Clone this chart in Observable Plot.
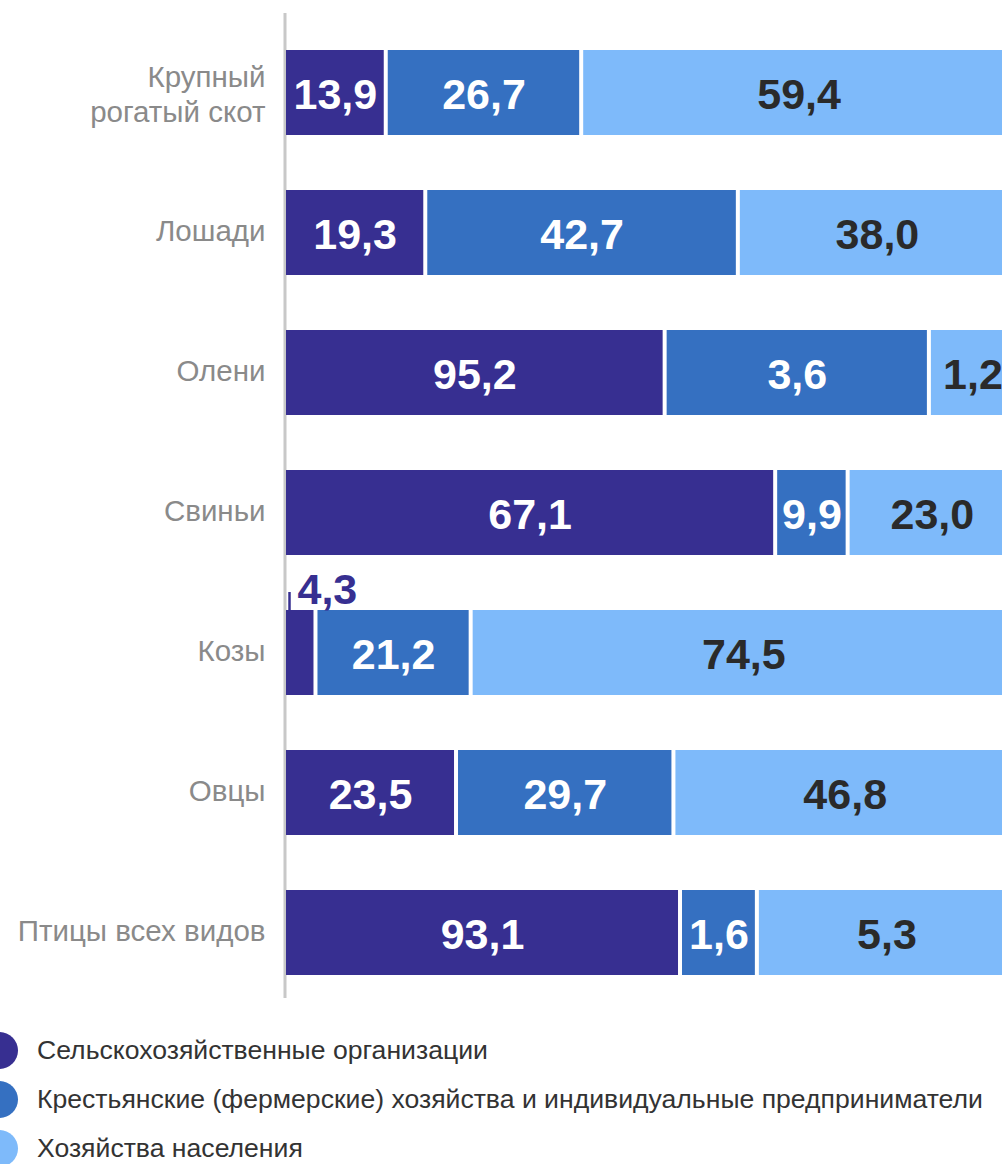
<!DOCTYPE html>
<html><head><meta charset="utf-8">
<script src="https://cdn.jsdelivr.net/npm/d3@7"></script>
<script src="https://cdn.jsdelivr.net/npm/@observablehq/plot@0.6"></script>
<style>
html,body{margin:0;padding:0;background:#fff;overflow:hidden;width:1002px;}
#chart svg{display:block;max-width:none;}
.legend{position:relative;margin-top:26px;font-family:"Liberation Sans",Arial,sans-serif;font-size:26.6px;color:#333;}
.legend .row{position:relative;height:49px;}
.legend .dot{position:absolute;left:-19px;top:6px;width:37px;height:37px;border-radius:50%;}
.legend .lab{position:absolute;left:37px;top:0;line-height:49px;white-space:nowrap;}
</style></head><body>
<div id="chart"></div>
<div class="legend" id="legend"></div>
<script>
// Categories (rows, top to bottom)
const categories = ["Крупный\nрогатый скот", "Лошади", "Олени", "Свиньи", "Козы", "Овцы", "Птицы всех видов"];
// Series (legend order)
const series = [
  "Сельскохозяйственные организации",
  "Крестьянские (фермерские) хозяйства и индивидуальные предприниматели",
  "Хозяйства населения"
];
// Printed values, %
const agriOrgValues  = [13.9, 19.3, 95.2, 67.1, 4.3, 23.5, 93.1];
const farmValues     = [26.7, 42.7, 3.6, 9.9, 21.2, 29.7, 1.6];
const householdValues= [59.4, 38.0, 1.2, 23.0, 74.5, 46.8, 5.3];
// Segment lengths as drawn in the picture, %
const agriOrgDrawn   = [13.9, 19.3, 52.0, 67.1, 4.3, 23.5, 54.1];
const farmDrawn      = [26.7, 42.7, 36.1, 9.9, 21.2, 29.7, 10.5];
const householdDrawn = [59.4, 38.0, 11.9, 23.0, 74.5, 46.8, 35.4];

const colors = ["#372f91", "#3570c1", "#7ebafa"];

const printed = [agriOrgValues, farmValues, householdValues];
const drawn = [agriOrgDrawn, farmDrawn, householdDrawn];
const segs = [];
categories.forEach((c, i) => {
  let acc = 0;
  drawn.forEach((arr, j) => {
    const v = arr[i];
    segs.push({category: c, series: series[j], j, x1: acc, x2: acc + v, label: printed[j][i].toFixed(1).replace(".", ",")});
    acc += v;
  });
});
const isSmall = d => (d.x2 - d.x1) < 6;
const inside = segs.filter(d => !isSmall(d));
const outside = segs.filter(isSmall);
const mid = d => (d.x1 + d.x2) / 2;
const singleLine = categories.filter(c => !c.includes("\n"));
const multiLine = categories.filter(c => c.includes("\n"));
const catStyle = {y: d => d, text: d => d, frameAnchor: "left", textAnchor: "end", dx: -21, fontSize: 29.5, fill: "#8a8a8a", lineHeight: 1.19};

const chart = Plot.plot({
  width: 1020, height: 1000,
  marginLeft: 286, marginRight: 2, marginTop: 13, marginBottom: 2,
  style: {fontFamily: "'Liberation Sans', Arial, sans-serif", background: "transparent"},
  x: {domain: [0, 100], axis: null},
  y: {domain: categories, paddingInner: 0.393, paddingOuter: 0.214, align: 0.617, label: null, axis: null},
  color: {domain: series, range: colors},
  marks: [
    Plot.text(singleLine, {...catStyle, dy: -3}),
    Plot.text(multiLine, {...catStyle, dy: 0}),
    Plot.ruleX([0], {stroke: "#c8c8c8", strokeWidth: 3, dx: -1.5}),
    Plot.barX(segs, {x1: "x1", x2: "x2", y: "category", fill: "series", insetRight: 4}),
    Plot.text(inside.filter(d => d.j < 2), {x: mid, y: "category", text: "label", fill: "#ffffff", fontSize: 43, fontWeight: "bold", dx: -2, dy: 2.5}),
    Plot.text(inside.filter(d => d.j === 2), {x: mid, y: "category", text: "label", fill: "#2a2a2a", fontSize: 43, fontWeight: "bold", dx: -2, dy: 2.5}),
    Plot.tickX(outside, {x: "x1", y: "category", stroke: colors[0], strokeWidth: 2.5, dx: 3, insetTop: -18, insetBottom: 85}),
    Plot.text(outside, {x: "x1", y: "category", text: "label", fill: colors[0], fontSize: 43, fontWeight: "bold", textAnchor: "start", dx: 11, dy: -63})
  ]
});
document.getElementById("chart").appendChild(chart);

const legend = document.getElementById("legend");
series.forEach((s, j) => {
  const row = document.createElement("div");
  row.className = "row";
  row.innerHTML = `<span class="dot" style="background:${colors[j]}"></span><span class="lab">${s}</span>`;
  legend.appendChild(row);
});
</script>
</body></html>
